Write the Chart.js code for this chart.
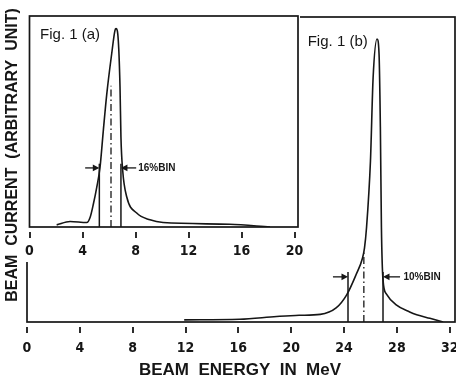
<!DOCTYPE html>
<html>
<head>
<meta charset="utf-8">
<script src="https://cdn.jsdelivr.net/npm/chart.js@4.4.1/dist/chart.umd.min.js"></script>
<style>
  html, body { margin: 0; padding: 0; background: #fff; }
  #wrap { position: relative; width: 456px; height: 382px; overflow: hidden; background: #fff; }
  #main { position: absolute; left: 0; top: 0; }
  #inset { position: absolute; left: 24px; top: 0; }
</style>
</head>
<body>
<div id="wrap">
  <canvas id="main" width="456" height="382"></canvas>
  <canvas id="inset" width="290" height="262"></canvas>
</div>
<script>
'use strict';

// Fig. 1 (b) - main spectrum, energies in MeV, current in arbitrary units
const mainTicks = [0, 4, 8, 12, 16, 20, 24, 28, 32];
const mainEnergy = [11.9, 16.1, 18.9, 20.6, 22.2, 23.4, 24.2, 24.9, 25.4, 25.55, 25.7, 26.0, 26.2, 26.5, 26.65, 26.75, 26.83, 26.95, 27.2, 27.95, 28.97, 29.5, 30.5, 31.5];
const mainCurrent = [0.7, 0.9, 1.8, 2.2, 2.5, 4.6, 8.9, 15.4, 21, 24.3, 30.8, 52.8, 80, 92.8, 87.9, 63.9, 31.1, 13.8, 9.2, 5.6, 3.3, 2.4, 1.2, 0];
const mainBinEdges = [24.3, 26.95];
const mainBinTop = 16.4;
const mainCentre = 25.5;
const mainCentreTop = 23;
const mainArrows = [[23.16, 24.3], [28.24, 26.95]];
const mainArrowLevel = 14.8;

// Fig. 1 (a) - inset spectrum
const insetTicks = [0, 4, 8, 12, 16, 20];
const insetEnergy = [2.05, 3.06, 4.32, 4.57, 4.82, 5.07, 5.32, 5.57, 5.83, 6.2, 6.45, 6.53, 6.7, 6.83, 6.9, 7.03, 7.34, 8.09, 9.09, 10.08, 15.1, 18.15];
const insetCurrent = [1.0, 2.6, 2.1, 4.5, 10.9, 18.7, 28.2, 45.7, 63, 82, 93.2, 94, 88.4, 66.4, 42.7, 26.9, 14.2, 6.6, 3.4, 2.1, 1.3, 0];
const insetBinEdges = [5.27, 6.9];
const insetBinTop = 30;
const insetCentre = 6.15;
const insetCentreTop = 67;
const insetArrows = [[4.2, 5.27], [8.05, 6.9]];
const insetArrowLevel = 28;

const INK = '#161616';
const TICK_FONT = {family: '"Liberation Sans Narrow", "DejaVu Sans Condensed", "Liberation Sans", Arial, sans-serif', size: 14, weight: 'bold'};

Chart.defaults.color = INK;
Chart.defaults.animation = false;

function pairs(xs, ys) {
    return xs.map((x, i) => ({x: x, y: ys[i]}));
}

function vline(e, top, dash) {
    return {
        data: [{x: e, y: 0}, {x: e, y: top}],
        borderColor: INK,
        borderWidth: dash ? 1.3 : 1.5,
        borderDash: dash || [],
        pointRadius: 0,
    };
}

// the inset hides the part of the main frame behind it
const paper = {
    id: 'paper',
    beforeDraw(chart) {
        const ctx = chart.ctx;
        ctx.save();
        ctx.fillStyle = '#fff';
        ctx.fillRect(0, 0, chart.chartArea.right + 2, chart.height);
        ctx.restore();
    }
};

// frame, detached tick marks, arrows and notes
const decor = {
    id: 'decor',
    afterDraw(chart, args, opts) {
        const {ctx, chartArea: a} = chart;
        const x = chart.scales.x, y = chart.scales.y;
        ctx.save();
        ctx.strokeStyle = INK;
        ctx.fillStyle = INK;

        ctx.lineWidth = 1.7;
        ctx.strokeRect(a.left, a.top, a.right - a.left, a.bottom - a.top);

        ctx.lineWidth = 1.8;
        x.ticks.forEach((t) => {
            let px = Math.round(x.getPixelForValue(t.value));
            ctx.beginPath();
            ctx.moveTo(px, a.bottom + 5);
            ctx.lineTo(px, a.bottom + 11);
            ctx.stroke();
        });

        ctx.lineWidth = 1.3;
        let py = y.getPixelForValue(opts.arrowLevel);
        opts.arrows.forEach(([tail, tip]) => {
            let x0 = x.getPixelForValue(tail), x1 = x.getPixelForValue(tip);
            let dir = Math.sign(x1 - x0);
            ctx.beginPath();
            ctx.moveTo(x0, py);
            ctx.lineTo(x1 - dir * 5, py);
            ctx.stroke();
            ctx.beginPath();
            ctx.moveTo(x1, py);
            ctx.lineTo(x1 - dir * 6.5, py - 3.3);
            ctx.lineTo(x1 - dir * 6.5, py + 3.3);
            ctx.closePath();
            ctx.fill();
        });

        ctx.textAlign = 'left';
        ctx.textBaseline = 'middle';
        opts.notes.forEach((n) => {
            ctx.font = n.font;
            ctx.fillText(n.text, x.getPixelForValue(n.x), y.getPixelForValue(n.y));
        });
        ctx.restore();
    }
};

// axis titles of the whole figure
const titles = {
    id: 'titles',
    afterDraw(chart) {
        const ctx = chart.ctx;
        ctx.save();
        ctx.fillStyle = INK;
        ctx.textAlign = 'center';
        ctx.textBaseline = 'middle';
        ctx.font = 'bold 17px "Liberation Sans", Arial, sans-serif';
        ctx.fillText('BEAM  ENERGY  IN  MeV', 240, 370);
        ctx.translate(13, 155);
        ctx.rotate(-Math.PI / 2);
        ctx.font = 'bold 16px "Liberation Sans", Arial, sans-serif';
        ctx.fillText('BEAM  CURRENT  (ARBITRARY  UNIT)', 0, 0);
        ctx.restore();
    }
};

function makeOptions(xMax, tickVals, axisHeight, tickPad, padding, decorOpts) {
    return {
        responsive: false,
        devicePixelRatio: 1,
        layout: {padding: padding},
        plugins: {legend: {display: false}, tooltip: {enabled: false}, decor: decorOpts},
        elements: {line: {fill: false}},
        scales: {
            x: {
                type: 'linear',
                min: 0,
                max: xMax,
                grid: {display: false, drawTicks: false},
                border: {display: false},
                ticks: {font: TICK_FONT, color: INK, padding: tickPad, maxRotation: 0},
                afterBuildTicks: (s) => { s.ticks = tickVals.map((v) => ({value: v})); },
                afterFit: (s) => {
                    s.height = axisHeight;
                    // labels may overhang the frame, like in the print
                    s.paddingLeft = 0;
                    s.paddingRight = 0;
                },
            },
            y: {display: false, min: 0, max: 100},
        },
    };
}

new Chart(document.getElementById('main'), {
    type: 'line',
    data: {
        datasets: [
            {data: pairs(mainEnergy, mainCurrent), borderColor: INK, borderWidth: 1.6,
             pointRadius: 0, cubicInterpolationMode: 'monotone'},
            vline(mainBinEdges[0], mainBinTop),
            vline(mainBinEdges[1], mainBinTop),
            vline(mainCentre, mainCentreTop, [7, 3, 1.5, 3]),
        ]
    },
    options: makeOptions(32.4, mainTicks, 60, 18, {left: 27, top: 17, right: 1, bottom: 0}, {
        arrows: mainArrows,
        arrowLevel: mainArrowLevel,
        notes: [
            {text: '10%BIN', x: 28.5, y: mainArrowLevel, font: 'bold 10px "Liberation Sans Narrow", "Liberation Sans", Arial, sans-serif'},
            {text: 'Fig. 1 (b)', x: 21.25, y: 92, font: '15px "Liberation Sans", Arial, sans-serif'},
        ],
    }),
    plugins: [decor, titles],
});

new Chart(document.getElementById('inset'), {
    type: 'line',
    data: {
        datasets: [
            {data: pairs(insetEnergy, insetCurrent), borderColor: INK, borderWidth: 1.6,
             pointRadius: 0, cubicInterpolationMode: 'monotone'},
            vline(insetBinEdges[0], insetBinTop),
            vline(insetBinEdges[1], insetBinTop),
            vline(insetCentre, insetCentreTop, [7, 3, 1.5, 3]),
        ]
    },
    options: makeOptions(20.26, insetTicks, 35, 16, {left: 5.5, top: 16, right: 16, bottom: 0}, {
        arrows: insetArrows,
        arrowLevel: insetArrowLevel,
        notes: [
            {text: '16%BIN', x: 8.2, y: insetArrowLevel, font: 'bold 10px "Liberation Sans Narrow", "Liberation Sans", Arial, sans-serif'},
            {text: 'Fig. 1 (a)', x: 0.8, y: 91, font: '15px "Liberation Sans", Arial, sans-serif'},
        ],
    }),
    plugins: [paper, decor],
});
</script>
</body>
</html>
